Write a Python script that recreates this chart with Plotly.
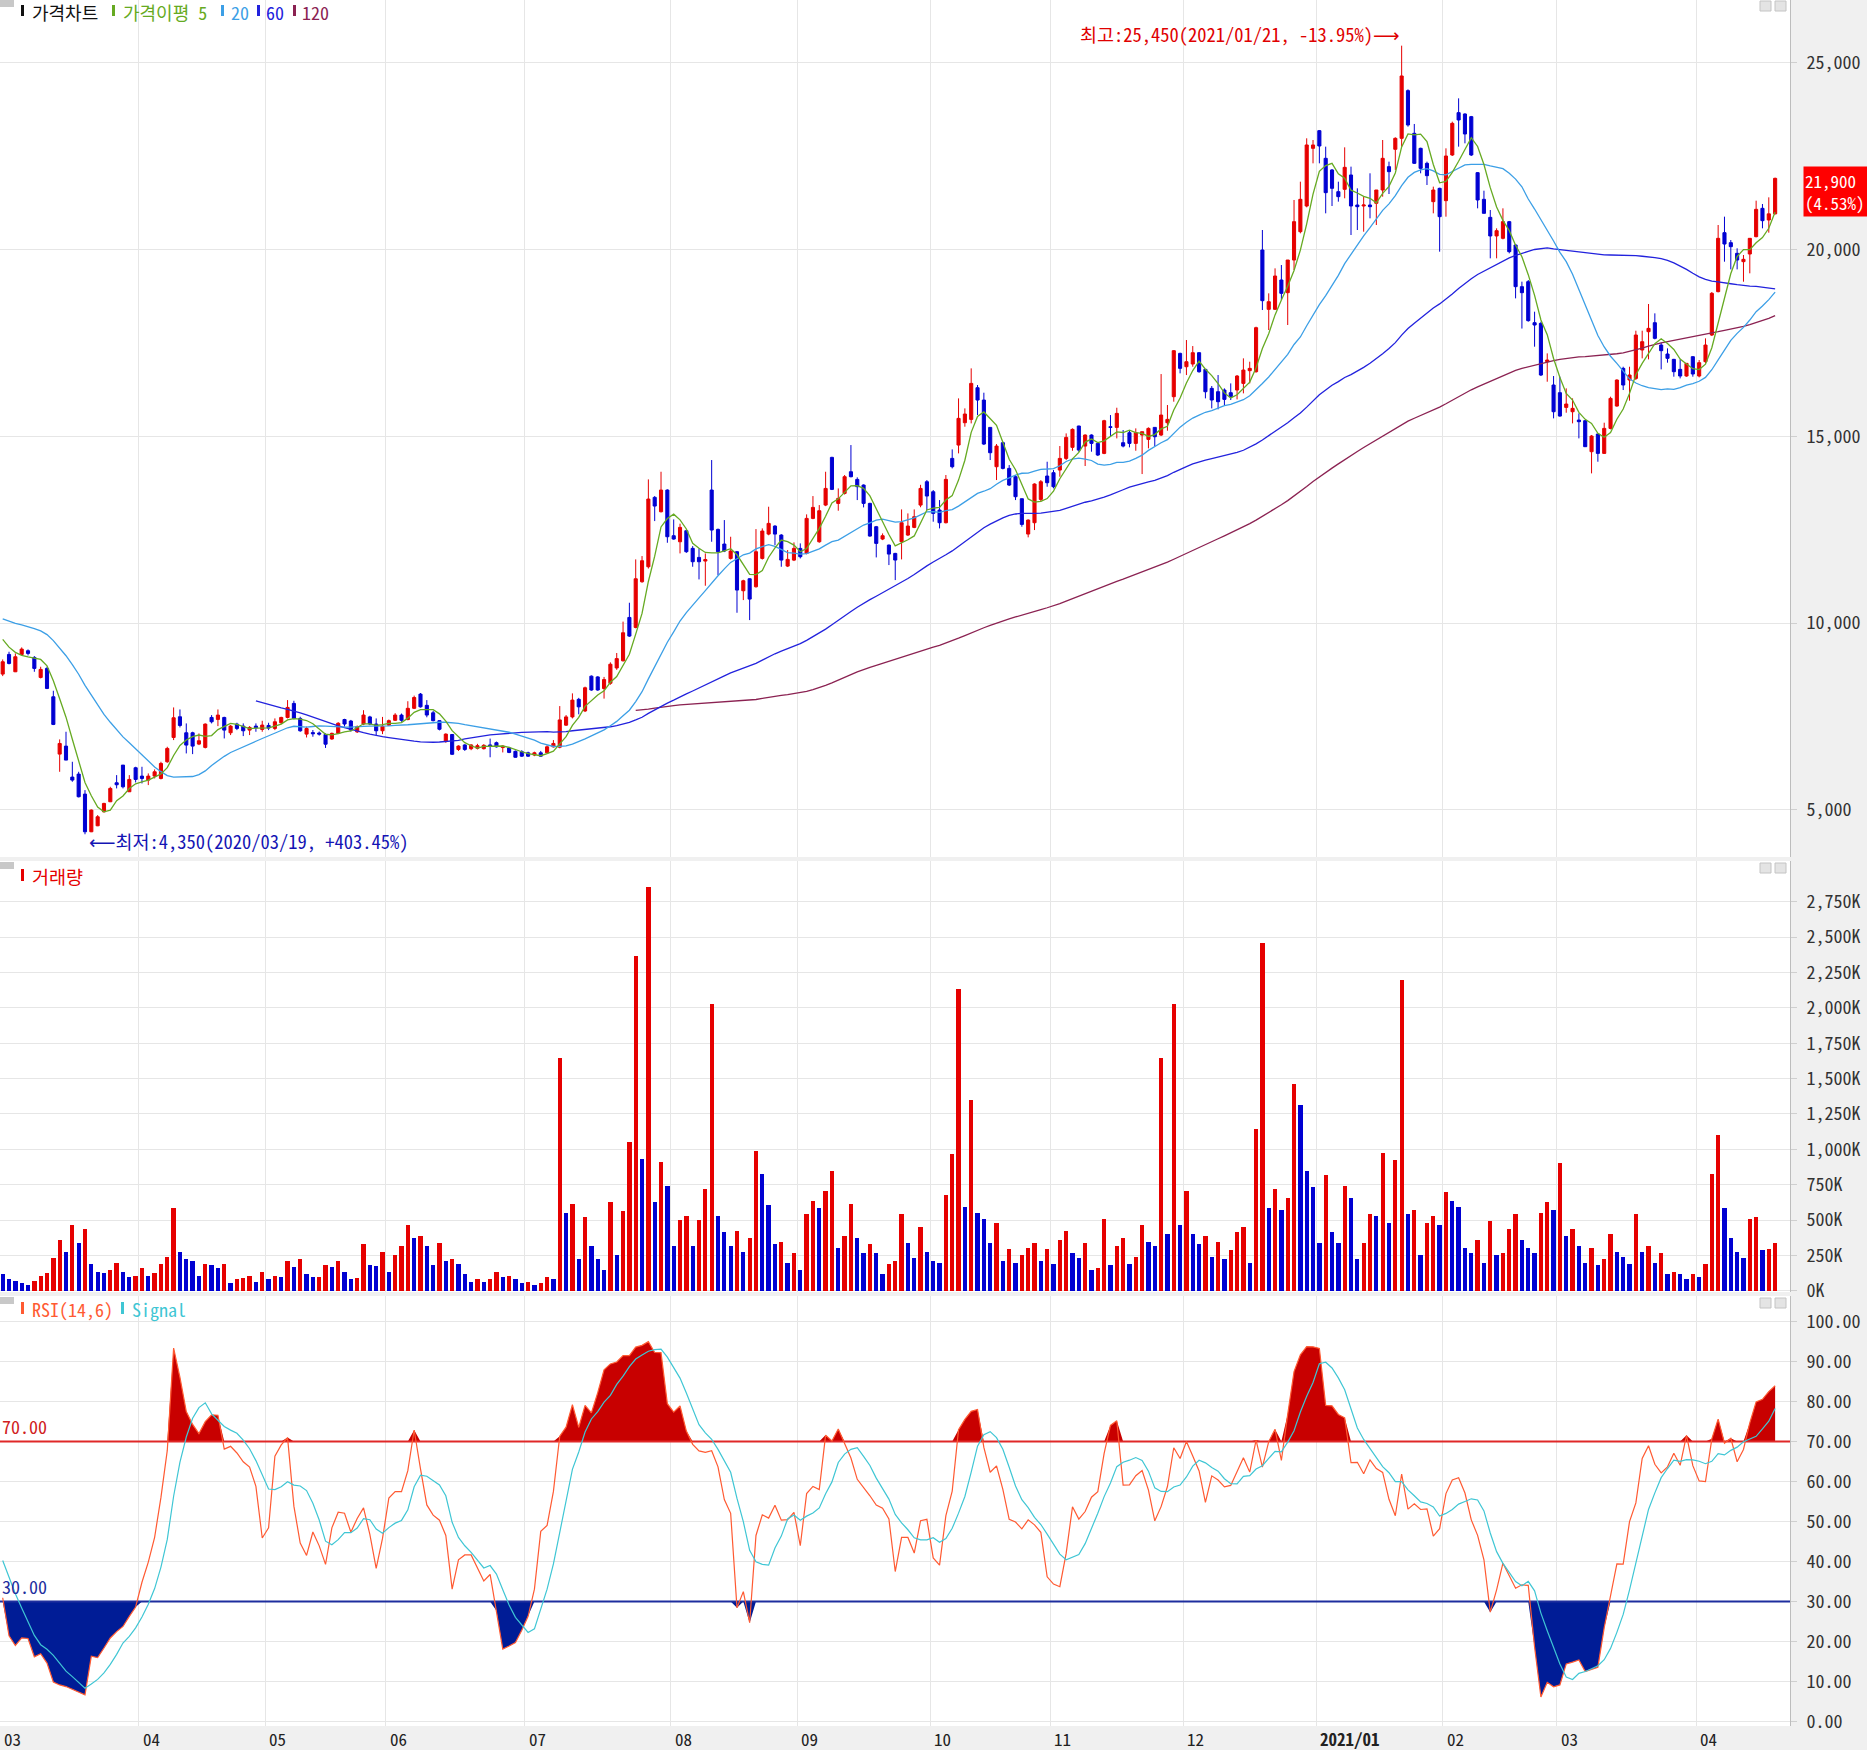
import numpy as np
import pandas as pd
import plotly.graph_objects as go

# ------------------------------------------------------------------ data
month_labels = ["03", "04", "05", "06", "07", "08", "09", "10", "11", "12",
                "2021/01", "02", "03", "04"]
month_days = [22, 20, 19, 22, 23, 20, 21, 19, 21, 21, 20, 18, 22, 13]

# closes before the first visible day (only feed the moving averages / RSI)
pre_closes = [10300, 10200, 10100, 10050, 9950, 9950, 10250, 10500, 10650, 10550,
              10600, 10450, 10350, 10400, 10200, 9950, 9800, 9700, 9400]
prev_volume_k = 130

opens = [
    8636, 9162, 8698, 9162, 9260, 9082, 8547, 8788, 8029, 6495,
    6709, 5880, 5960, 5425, 4417, 4577, 4952, 5220, 5728, 6201,
    5487, 6130, 5906, 5799, 5906, 5844, 6290, 6941, 7494, 7066,
    7066, 6763, 6674, 7476, 7423, 7476, 7066, 7298, 7244, 7137,
    7244, 7155, 7262, 7182, 7334, 7476, 7851, 7450, 7030, 7070,
    7060, 7020, 6900, 7050, 7420, 7380, 7090, 7300, 7490, 7300,
    7120, 7270, 7400, 7540, 7420, 7720, 8100, 7800, 7600, 7390,
    6830, 7020, 6620, 6740, 6640, 6650, 6640, 6740, 6800, 6670,
    6660, 6570, 6560, 6530, 6470, 6530, 6530, 6690, 6680, 7270,
    7490, 7960, 7650, 8580, 8560, 8250, 8390, 8800, 8993, 10152,
    9885, 11107, 11508, 13364, 12980, 13560, 12338, 12177, 12472, 12000,
    11758, 11660, 13560, 12507, 12115, 11731, 11910, 10866, 11187, 10973,
    11731, 12382, 12596, 12356, 11526, 11686, 11999, 11865, 12802, 12177,
    13158, 14434, 13203, 13471, 14050, 13845, 13694, 13203, 12579, 12249,
    12088, 11865, 12177, 12356, 12561, 13158, 13783, 13515, 13025, 12686,
    14407, 14764, 15362, 15451, 16298, 15968, 15237, 14184, 14827, 14140,
    13917, 13328, 12383, 12686, 13310, 13935, 14024, 14095, 14407, 14702,
    15273, 14737, 15032, 14809, 14541, 15255, 15237, 14827, 15094, 14809,
    15032, 14916, 15237, 15032, 15362, 16058, 17217, 16860, 16932, 17235,
    16789, 16281, 16192, 16236, 16165, 16236, 16414, 16754, 16727, 19983,
    18395, 18395, 19180, 18841, 19715, 20473, 21160, 22703, 23176, 22436,
    22124, 21544, 21606, 21990, 21187, 21160, 21187, 21232, 21588, 22213,
    22677, 22971, 24247, 23105, 22703, 22302, 21276, 21633, 21303, 22525,
    23658, 23622, 23551, 22052, 21339, 20857, 20358, 20295, 20741, 20117,
    19002, 19136, 18038, 18020, 16994, 16370, 16165, 15772, 15656, 15433,
    15416, 14586, 15059, 14541, 15210, 15808, 16816, 16504, 16548, 17307,
    17797, 18038, 17440, 17200, 17057, 16789, 16611, 17128, 16611, 16995,
    17708, 18868, 20447, 20179, 19894, 19671, 19876, 20340, 21098, 20786,
    20950]
highs = [
    9028, 9234, 9189, 9350, 9296, 9118, 8832, 8832, 8190, 6888,
    7093, 6290, 6022, 5532, 5015, 4863, 5193, 5621, 5933, 6201,
    5933, 6156, 6156, 5978, 6085, 6290, 6691, 7744, 7690, 7316,
    7093, 7048, 7316, 7539, 7690, 7494, 7271, 7334, 7316, 7244,
    7316, 7387, 7334, 7450, 7494, 7940, 7922, 7494, 7230, 7140,
    7100, 7050, 7070, 7350, 7440, 7410, 7260, 7670, 7520, 7450,
    7490, 7420, 7590, 7580, 7910, 8060, 8130, 7940, 7650, 7400,
    7050, 7030, 6730, 6760, 6760, 6770, 6760, 6910, 6830, 6730,
    6690, 6590, 6600, 6560, 6560, 6580, 6730, 6870, 7780, 7540,
    8120, 8000, 8300, 8600, 8580, 8560, 8950, 9200, 10040, 10545,
    11705, 11794, 13845, 13400, 14050, 13580, 12775, 12660, 12500, 12060,
    11999, 11865, 14363, 12530, 12757, 12311, 11930, 11160, 11200, 12516,
    12534, 13114, 12620, 12380, 11955, 12160, 12133, 12909, 13399, 13158,
    14050, 14450, 13604, 13962, 14764, 13900, 13710, 13220, 12600, 12400,
    12100, 11880, 13042, 12935, 13042, 13700, 13828, 13560, 13292, 13962,
    14648, 16013, 15745, 16816, 16370, 16165, 15240, 14791, 14854, 14229,
    13962, 13330, 12775, 13739, 13828, 14318, 14095, 14738, 15076, 15210,
    15280, 15050, 15050, 14830, 15440, 15567, 15763, 15166, 15166, 15210,
    15121, 15237, 15240, 16664, 15835, 17306, 17235, 17574, 17413, 17250,
    16800, 16344, 16638, 16281, 16414, 16638, 17084, 16994, 17931, 20518,
    18823, 19492, 19581, 19715, 21321, 21811, 22971, 22926, 23194, 22748,
    22150, 21811, 22730, 22213, 21633, 21410, 22035, 21588, 22926, 22347,
    22998, 25450, 24282, 23355, 22720, 22347, 21678, 21650, 22703, 23417,
    24041, 23640, 23570, 22070, 21570, 21053, 20563, 21098, 20760, 20130,
    19136, 19180, 18332, 18065, 17217, 16611, 16593, 16281, 16013, 15612,
    15433, 15032, 15070, 15362, 16058, 16522, 16860, 16860, 17824, 17824,
    18538, 18288, 17503, 17351, 17070, 17057, 16950, 17140, 17039, 17619,
    18859, 20652, 20875, 20250, 20028, 19849, 20295, 21303, 21214, 21392,
    21919]
lows = [
    8582, 8895, 8690, 9153, 9135, 8698, 8520, 8234, 7271, 6022,
    6335, 5755, 5336, 4350, 4408, 4568, 4934, 5211, 5577, 5577,
    5487, 5737, 5710, 5666, 5844, 5817, 6263, 6870, 7209, 6513,
    6495, 6736, 6647, 7316, 7244, 6914, 7004, 7137, 6977, 7004,
    7093, 7093, 7137, 7137, 7298, 7450, 7423, 7093, 6940, 6960,
    6990, 6660, 6880, 7030, 7230, 7100, 7060, 7270, 7270, 7000,
    7030, 7250, 7380, 7360, 7400, 7700, 7740, 7480, 7370, 7130,
    6800, 6470, 6580, 6580, 6600, 6620, 6620, 6410, 6670, 6540,
    6520, 6400, 6420, 6420, 6440, 6420, 6510, 6670, 6650, 7250,
    7450, 7560, 7620, 8190, 8190, 7980, 8350, 8750, 8970, 9630,
    9860, 11080, 11460, 12730, 12960, 12150, 12230, 11865, 11880, 11508,
    11169, 11000, 12177, 11285, 11900, 11700, 10277, 10616, 10081, 10950,
    11700, 12350, 12088, 11508, 11500, 11660, 11730, 11840, 12780, 12150,
    13130, 13560, 13007, 13440, 13900, 13292, 13096, 12311, 11758, 12220,
    11553, 11151, 11704, 12330, 12540, 13100, 13025, 12713, 12534, 12668,
    14140, 14541, 15255, 15344, 15567, 14764, 14363, 13828, 14113, 13667,
    13292, 12579, 12294, 12490, 13248, 13649, 13605, 13917, 14363, 14612,
    14586, 14203, 14586, 14470, 14520, 14987, 14942, 14702, 14702, 14612,
    13988, 14675, 14737, 15005, 15148, 15924, 16682, 16637, 16860, 16700,
    16013, 15745, 15720, 15834, 15969, 15986, 16147, 16414, 16700, 18377,
    17842, 18377, 18645, 17976, 19448, 20429, 21125, 22302, 22302, 20964,
    21160, 21276, 21366, 20384, 20518, 20473, 20830, 20652, 21410, 21481,
    22124, 22748, 23283, 22284, 22035, 21722, 20964, 19938, 20875, 22498,
    22748, 22837, 22498, 21098, 20964, 19760, 19760, 20268, 19894, 18689,
    17881, 18065, 17396, 16611, 16459, 15478, 15523, 15629, 15344, 14943,
    14720, 14006, 14318, 14530, 15184, 15790, 16236, 15951, 16504, 17084,
    17057, 17592, 16789, 16968, 16593, 16548, 16593, 16593, 16575, 16950,
    17681, 18850, 19670, 19465, 19465, 19135, 19359, 20322, 20563, 20447,
    20937]
closes = [
    8966, 8921, 9100, 9305, 9189, 8788, 8761, 8252, 7289, 6780,
    6335, 5800, 5354, 4417, 4997, 4818, 5175, 5577, 5675, 5621,
    5817, 5817, 5844, 5906, 6022, 6245, 6647, 7467, 7262, 6736,
    6709, 6852, 7298, 7360, 7539, 7137, 7244, 7182, 7119, 7209,
    7200, 7271, 7191, 7360, 7476, 7744, 7450, 7119, 7180, 7040,
    7030, 6760, 7050, 7320, 7300, 7140, 7230, 7540, 7300, 7120,
    7240, 7390, 7540, 7400, 7720, 8010, 7760, 7540, 7390, 7160,
    7030, 6490, 6710, 6620, 6740, 6720, 6730, 6710, 6690, 6710,
    6540, 6410, 6440, 6440, 6530, 6440, 6690, 6780, 7410, 7490,
    7940, 7760, 8270, 8210, 8210, 8490, 8900, 9050, 9742, 9653,
    11187, 11669, 13319, 13132, 13560, 12311, 12249, 12561, 11910, 11642,
    11642, 11700, 12490, 11910, 11928, 11928, 10884, 11133, 10643, 11910,
    12463, 12668, 12382, 11686, 11705, 11999, 11776, 12802, 13096, 13007,
    13604, 13578, 13337, 13917, 13917, 13649, 13203, 12329, 12133, 12338,
    11847, 11687, 12686, 12597, 12846, 13604, 13400, 12936, 12686, 13846,
    14184, 15478, 15594, 16414, 15968, 14791, 14559, 14737, 14140, 13694,
    13382, 12641, 12757, 13721, 13783, 13756, 13649, 14407, 14969, 15184,
    14630, 15032, 14809, 14497, 15416, 15237, 15612, 14737, 14809, 15094,
    15121, 15210, 14987, 15567, 15451, 17289, 16816, 16994, 17235, 16726,
    16191, 15969, 15924, 15986, 16058, 16611, 16771, 16816, 17904, 18627,
    18600, 19287, 18823, 19715, 20741, 21339, 22793, 22793, 22766, 21517,
    21633, 21410, 22195, 21160, 21142, 21187, 21142, 21588, 22436, 22079,
    22971, 24639, 23328, 22302, 22168, 21972, 21588, 20875, 22498, 23372,
    23462, 23087, 22525, 21321, 20964, 20358, 20500, 20741, 19938, 19002,
    18841, 18092, 17976, 16638, 17039, 15656, 15540, 15862, 15746, 15389,
    14720, 15005, 14541, 15210, 16013, 16504, 16370, 16638, 17708, 17530,
    17886, 17619, 17289, 17084, 16727, 16611, 16950, 16665, 16968, 17440,
    18824, 20295, 20143, 20072, 19715, 19733, 20295, 21071, 20768, 20950,
    21900]
volumes_k = [
    116, 85, 71, 52, 40, 71, 104, 123, 234, 359,
    274, 465, 340, 434, 189, 135, 123, 146, 198, 135,
    94, 104, 158, 104, 123, 189, 241, 583, 274, 222,
    212, 104, 189, 184, 158, 189, 52, 85, 90, 104,
    61, 135, 85, 104, 99, 212, 170, 222, 116, 94,
    99, 179, 170, 212, 135, 85, 90, 328, 179, 175,
    274, 135, 253, 316, 465, 371, 390, 316, 179, 335,
    212, 222, 189, 116, 61, 85, 61, 85, 135, 94,
    104, 85, 52, 61, 40, 52, 94, 85, 1646, 552,
    614, 222, 519, 316, 222, 146, 626, 253, 562, 1048,
    2366, 933, 2857, 626, 909, 741, 316, 501, 529, 316,
    501, 720, 2028, 529, 413, 316, 425, 274, 371, 985,
    826, 604, 328, 347, 198, 264, 146, 541, 635, 583,
    708, 848, 305, 390, 614, 371, 264, 328, 264, 116,
    190, 212, 541, 335, 234, 453, 274, 212, 198, 678,
    966, 2134, 590, 1350, 552, 510, 335, 477, 212, 295,
    198, 253, 305, 335, 212, 295, 189, 359, 425, 264,
    234, 335, 146, 158, 510, 179, 316, 371, 189, 241,
    465, 347, 316, 1646, 401, 2028, 465, 708, 401, 328,
    390, 241, 347, 222, 288, 413, 453, 198, 1145, 2460,
    583, 720, 571, 656, 1461, 1315, 848, 732, 335, 815,
    413, 335, 741, 656, 222, 335, 541, 529, 975, 477,
    923, 2196, 541, 571, 253, 477, 529, 465, 699, 635,
    593, 305, 264, 359, 198, 496, 253, 264, 434, 541,
    359, 305, 264, 552, 626, 571, 902, 390, 434, 316,
    198, 305, 179, 222, 401, 274, 241, 189, 541, 274,
    316, 198, 264, 116, 135, 116, 85, 116, 94, 189,
    826, 1103, 583, 371, 274, 229, 510, 519, 288, 295,
    335]

price_ticks = [5000, 10000, 15000, 20000, 25000]
volume_ticks = list(range(0, 2751, 250))
rsi_ticks = list(range(0, 101, 10))

# ------------------------------------------------------------------ derived series
n = len(closes)
x = np.arange(n)
npre = len(pre_closes)
all_close = pd.Series(pre_closes + closes, dtype=float)


def moving_average(window):
    return all_close.rolling(window).mean().iloc[npre:].to_numpy()


ma5, ma20, ma60, ma120 = (moving_average(w) for w in (5, 20, 60, 120))
diff = all_close.diff()
gain = diff.clip(lower=0).rolling(14).sum()
loss = (-diff.clip(upper=0)).rolling(14).sum()
rsi_all = 100 * gain / (gain + loss)
sig_all = rsi_all.rolling(6).mean()
rsi = rsi_all.iloc[npre:].to_numpy()
sig = sig_all.iloc[npre:].to_numpy()

RED = "#E60000"
BLUE = "#0000D2"
prev_vols = [prev_volume_k] + volumes_k[:-1]
vol_colors = [RED if v > p else BLUE for v, p in zip(volumes_k, prev_vols)]

month_starts = np.cumsum([0] + month_days[:-1])
grid_x = [s - 0.5 for s in month_starts]

# ------------------------------------------------------------------ geometry
W, H = 1867, 1750
MR, MB = 77, 24
PW, PH = W - MR, H - MB
FONT = "Noto Sans Mono CJK KR, Noto Sans CJK KR, DejaVu Sans, sans-serif"
GRID = "#E6E6E6"
PAPER = "#F0F0F0"
XR = [-0.427, 282.35]


def yp(py):
    return 1 - py / PH


def xp(px):
    return px / PW


def x_to_px(v):
    return (v - XR[0]) / (XR[1] - XR[0]) * PW


fig = go.Figure()

# price panel
fig.add_trace(go.Candlestick(
    x=x, open=opens, high=highs, low=lows, close=closes,
    increasing=dict(line=dict(color=RED, width=1), fillcolor=RED),
    decreasing=dict(line=dict(color=BLUE, width=1), fillcolor=BLUE),
    whiskerwidth=0, showlegend=False, hoverinfo="skip", xaxis="x", yaxis="y"))
for series, color in ((ma120, "#8B2252"), (ma60, "#2222DD"),
                      (ma20, "#3C9FE6"), (ma5, "#66AA22")):
    fig.add_trace(go.Scatter(x=x, y=series, mode="lines",
                             line=dict(color=color, width=1.3),
                             showlegend=False, hoverinfo="skip",
                             xaxis="x", yaxis="y"))

# volume panel
fig.add_trace(go.Bar(x=x, y=volumes_k, marker=dict(color=vol_colors, line=dict(width=0)),
                     width=0.68, showlegend=False, hoverinfo="skip",
                     xaxis="x2", yaxis="y2"))

# RSI panel
upper = np.where(np.isnan(rsi), 70, np.maximum(rsi, 70))
lower = np.where(np.isnan(rsi), 30, np.minimum(rsi, 30))
common = dict(mode="lines", showlegend=False, hoverinfo="skip", xaxis="x3", yaxis="y3")
fig.add_trace(go.Scatter(x=x, y=[70] * n, line=dict(width=0, color="rgba(0,0,0,0)"), **common))
fig.add_trace(go.Scatter(x=x, y=upper, line=dict(width=0, color="rgba(0,0,0,0)"),
                         fill="tonexty", fillcolor="#C80000", **common))
fig.add_trace(go.Scatter(x=x, y=[30] * n, line=dict(width=0, color="rgba(0,0,0,0)"), **common))
fig.add_trace(go.Scatter(x=x, y=lower, line=dict(width=0, color="rgba(0,0,0,0)"),
                         fill="tonexty", fillcolor="#001C96", **common))
fig.add_trace(go.Scatter(x=XR, y=[70, 70], line=dict(width=2, color="#E02828"), **common))
fig.add_trace(go.Scatter(x=XR, y=[30, 30], line=dict(width=2, color="#1E2E9E"), **common))
fig.add_trace(go.Scatter(x=x, y=rsi, line=dict(width=1.2, color="#FF5A32"), **common))
fig.add_trace(go.Scatter(x=x, y=sig, line=dict(width=1.2, color="#3FC6D4"), **common))

xcommon = dict(range=XR, tickvals=grid_x, showticklabels=False, ticks="",
               showgrid=True, gridcolor=GRID, gridwidth=1, zeroline=False,
               showline=False, fixedrange=True)
ycommon = dict(side="right", showgrid=True, gridcolor=GRID, gridwidth=1,
               zeroline=False, ticks="outside", ticklen=6, tickcolor="#CFCFCF",
               ticklabelstandoff=6, showline=True, linecolor="#BDBDBD",
               linewidth=1, fixedrange=True,
               tickfont=dict(family=FONT, size=18, color="#333333"))

fig.update_layout(
    width=W, height=H, paper_bgcolor=PAPER, plot_bgcolor="white",
    margin=dict(l=0, r=MR, t=0, b=MB, autoexpand=False),
    showlegend=False, bargap=0,
    xaxis=dict(domain=[0, 1], anchor="y", rangeslider=dict(visible=False), **xcommon),
    xaxis2=dict(domain=[0, 1], anchor="y2", matches="x", **xcommon),
    xaxis3=dict(domain=[0, 1], anchor="y3", matches="x", **xcommon),
    yaxis=dict(domain=[yp(857), 1], anchor="x", range=[3742, 26672],
               tickvals=price_ticks, ticktext=[f"{v:,}" for v in price_ticks], **ycommon),
    yaxis2=dict(domain=[yp(1292), yp(861)], anchor="x2", range=[-9, 3038],
                tickvals=volume_ticks, ticktext=[f"{v:,}K" for v in volume_ticks], **ycommon),
    yaxis3=dict(domain=[0, yp(1296)], anchor="x3", range=[-1.1, 106.4],
                tickvals=rsi_ticks, ticktext=[f"{v:.2f}" for v in rsi_ticks], **ycommon),
)

annotations = []
shapes = []


def label(px, py, text, color, size=18.5, anchor="left"):
    annotations.append(dict(
        xref="paper", yref="paper", x=xp(px), y=yp(py), xanchor=anchor,
        yanchor="middle", showarrow=False, text=text,
        font=dict(family=FONT, size=size, color=color)))


def rect(x0, y0, x1, y1, color, line=None):
    shapes.append(dict(type="rect", xref="paper", yref="paper",
                       x0=xp(x0), x1=xp(x1), y0=yp(y1), y1=yp(y0),
                       fillcolor=color, line=dict(width=1 if line else 0,
                                                  color=line or color),
                       layer="above"))


# panel headers
legend_items = [("가격차트", "#111111", 21, 30), ("가격이평 5", "#66AA22", 112, 121),
                ("20", "#3C9FE6", 221, 229), ("60", "#2222DD", 257, 264),
                ("120", "#8B2252", 293, 300)]
for text, color, mx, tx in legend_items:
    rect(mx, 5, mx + 3, 16, color)
    label(tx, 12.5, text, color, size=18)
rect(21, 869, 24, 881, RED)
label(30, 875.5, "거래량", RED)
rect(21, 1302, 24, 1314, "#FF5A32")
label(30, 1308.5, "RSI(14,6)", "#FF5A32", size=18)
rect(121, 1302, 124, 1314, "#3FC6D4")
label(130, 1308.5, "Signal", "#3FC6D4", size=18)

# small window buttons
for top in (0, 862, 1297):
    rect(0, top, 14, top + 7, "#C8C8C8")
    rect(1760, top + 1, 1771, top + 11, "#E4E4E4", "#C4C4C4")
    rect(1775, top + 1, 1786, top + 11, "#E4E4E4", "#C4C4C4")

# RSI reference labels
annotations.append(dict(xref="paper", yref="y3", x=0, y=70, yshift=1, xanchor="left",
                        yanchor="bottom", showarrow=False, text="70.00",
                        font=dict(family=FONT, size=18, color="#D02020")))
annotations.append(dict(xref="paper", yref="y3", x=0, y=30, yshift=1, xanchor="left",
                        yanchor="bottom", showarrow=False, text="30.00",
                        font=dict(family=FONT, size=18, color="#1E2E9E")))

# high / low markers
hi_idx = int(np.argmax(highs))
lo_idx = int(np.argmin(lows))
annotations.append(dict(xref="x", yref="y", x=hi_idx, y=25760, xanchor="right",
                        yanchor="middle", showarrow=False,
                        text="최고:25,450(2021/01/21, -13.95%)⟶",
                        font=dict(family=FONT, size=18.5, color="#E00000")))
annotations.append(dict(xref="x", yref="y", x=lo_idx, y=4180, xanchor="left", xshift=2,
                        yanchor="middle", showarrow=False,
                        text="⟵최저:4,350(2020/03/19, +403.45%)",
                        font=dict(family=FONT, size=18.5, color="#1414B4")))

# current price box
annotations.append(dict(xref="paper", yref="paper", x=xp(1803), y=yp(166),
                        xanchor="left", yanchor="top", showarrow=False, align="left",
                        text="21,900<br>(4.53%)", bgcolor="#FF0000", borderpad=1,
                        width=62, font=dict(family=FONT, size=17, color="white")))

# month labels
for start, text in zip(month_starts, month_labels):
    px = max(0.0, x_to_px(start - 0.5))
    annotations.append(dict(xref="paper", yref="paper", x=xp(px), y=yp(1738),
                            xanchor="left", yanchor="middle", xshift=2, showarrow=False,
                            text=f"<b>{text}</b>" if "/" in text else text,
                            font=dict(family=FONT, size=17, color="#222222")))

fig.update_layout(annotations=annotations, shapes=shapes)
fig.write_html("out.html",
               config={"displayModeBar": False},
               post_script="document.body.style.margin='0';"
                           "document.body.style.overflow='hidden';")
